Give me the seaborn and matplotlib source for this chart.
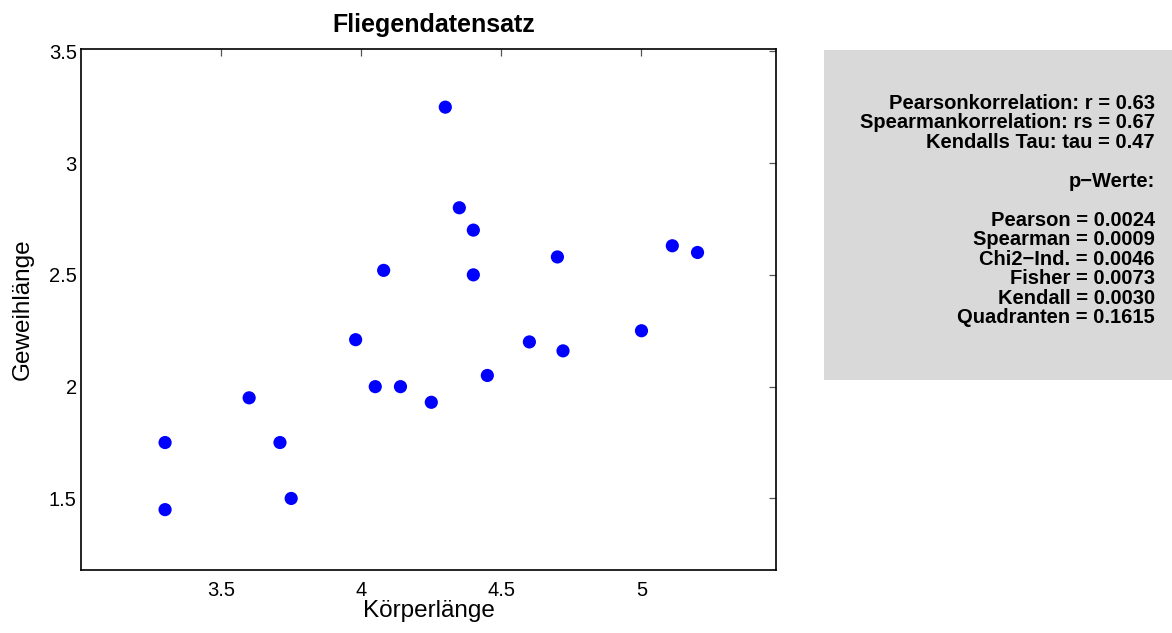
import numpy as np
import pandas as pd
import matplotlib
matplotlib.use("Agg")
import matplotlib.pyplot as plt
import seaborn as sns
from matplotlib.patches import Rectangle

# ---- data ----
koerperlaenge = [3.30, 3.30, 3.60, 3.71, 3.75, 3.98, 4.05, 4.08, 4.14, 4.25, 4.30,
                 4.35, 4.40, 4.40, 4.45, 4.60, 4.70, 4.72, 5.00, 5.11, 5.20]
geweihlaenge = [1.45, 1.75, 1.95, 1.75, 1.50, 2.21, 2.00, 2.52, 2.00, 1.93, 3.25,
                2.80, 2.70, 2.50, 2.05, 2.20, 2.58, 2.16, 2.25, 2.63, 2.60]
x_ticks = [3.5, 4.0, 4.5, 5.0]
x_tick_labels = ["3.5", "4", "4.5", "5"]
y_ticks = [1.5, 2.0, 2.5, 3.0, 3.5]
y_tick_labels = ["1.5", "2", "2.5", "3", "3.5"]
title = "Fliegendatensatz"
x_label = "Körperlänge"
y_label = "Geweihlänge"
stat_lines = [
    "Pearsonkorrelation: r = 0.63",
    "Spearmankorrelation: rs = 0.67",
    "Kendalls Tau: tau = 0.47",
    "",
    "p\u2212Werte:",
    "",
    "Pearson = 0.0024",
    "Spearman = 0.0009",
    "Chi2\u2212Ind. = 0.0046",
    "Fisher = 0.0073",
    "Kendall = 0.0030",
    "Quadranten = 0.1615",
]

sns.set_theme(style="white")
plt.rcParams['font.family'] = ['Liberation Sans', 'DejaVu Sans']

W, H = 1172, 633
fig = plt.figure(figsize=(W / 100, H / 100), dpi=100)
fig.patch.set_facecolor("white")

ax_l, ax_r, ax_t, ax_b = 81, 776, 49, 570
ax = fig.add_axes([ax_l / W, 1 - ax_b / H, (ax_r - ax_l) / W, (ax_b - ax_t) / H])

df = pd.DataFrame({x_label: koerperlaenge, y_label: geweihlaenge})
sns.scatterplot(data=df, x=x_label, y=y_label, ax=ax, color="#0000ff",
                s=90, linewidth=0, edgecolor="none", legend=False)

ax.set_xlim(3.0, 5.48)
ax.set_ylim(1.18, 3.51)
ax.set_xticks(x_ticks)
ax.set_xticklabels(x_tick_labels)
ax.set_yticks(y_ticks)
ax.set_yticklabels(y_tick_labels)

for sp in ax.spines.values():
    sp.set_visible(True)
    sp.set_color("black")
    sp.set_linewidth(1.2)

ax.tick_params(axis="both", direction="in", length=5, width=0.9, color="#555555",
               top=True, right=True, labelsize=14.5, labelcolor="black")
ax.tick_params(axis="x", pad=8)
ax.tick_params(axis="y", pad=3)

ax.set_xlabel(x_label, fontsize=17.5, color="black")
ax.set_ylabel(y_label, fontsize=17.5, color="black")
ax.xaxis.set_label_coords(0.5, (ax_b - 611) / (ax_b - ax_t))
ax.xaxis.label.set_verticalalignment("center")
ax.yaxis.set_label_coords((23 - ax_l) / (ax_r - ax_l), 0.5)
ax.yaxis.label.set_verticalalignment("center")
ax.yaxis.label.set_horizontalalignment("center")

t = ax.set_title(title, fontsize=18, fontweight="bold", color="black", pad=12)
t.set_x((434 - ax_l) / (ax_r - ax_l))

# statistics panel
fig.patches.append(Rectangle((824 / W, 1 - 380 / H), (W - 824) / W, (380 - 50) / H,
                             transform=fig.transFigure, facecolor="#d9d9d9",
                             edgecolor="none", zorder=0))
spacing = 19.5
first_line = 101.7
for i, line in enumerate(stat_lines):
    if not line:
        continue
    yc = first_line + i * spacing
    yb = yc + 7.0
    fig.text(1155 / W, 1 - yb / H, line, ha="right", va="baseline",
             fontsize=14.5, fontweight="bold", color="black")

fig.savefig("out.png", dpi=100)
